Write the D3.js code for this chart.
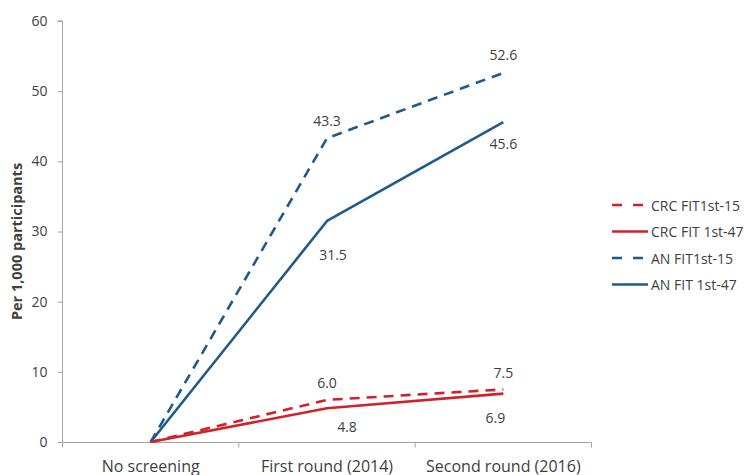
<!DOCTYPE html>
<html>
<head>
<meta charset="utf-8">
<script src="https://cdn.jsdelivr.net/npm/d3@7"></script>
<style>
  html, body { margin: 0; padding: 0; background: #ffffff; }
  svg { display: block; }
  text { font-family: "Open Sans", "Noto Sans", sans-serif; fill: #404040; }
</style>
</head>
<body>
<svg id="chart" width="744" height="475"></svg>
<script>
// Detection rates per 1,000 participants across screening rounds
const categories = ["No screening", "First round (2014)", "Second round (2016)"];
const crcFit15 = [0, 6.0, 7.5];
const crcFit47 = [0, 4.8, 6.9];
const anFit15 = [0, 43.3, 52.6];
const anFit47 = [0, 31.5, 45.6];
const yTicks = [0, 10, 20, 30, 40, 50, 60];
const seriesNames = ["CRC FIT1st-15", "CRC FIT 1st-47", "AN FIT1st-15", "AN FIT 1st-47"];

const RED = "#cf222d";
const BLUE = "#1f5a8b";
const AXIS = "#a3a3a3";

// Series styling and where each value label sits relative to its point
const series = [
  { name: seriesNames[0], values: crcFit15, color: RED, dashed: true,
    labelOffsets: [null, [0, -17], [0, -17]] },
  { name: seriesNames[1], values: crcFit47, color: RED, dashed: false,
    labelOffsets: [null, [20, 18], [-8, 24]] },
  { name: seriesNames[2], values: anFit15, color: BLUE, dashed: true,
    labelOffsets: [null, [0, -18], [0, -18]] },
  { name: seriesNames[3], values: anFit47, color: BLUE, dashed: false,
    labelOffsets: [null, [6, 34], [0, 21]] }
];

const svg = d3.select("#chart");

const x = d3.scaleBand().domain(categories).range([62.5, 591.5]).padding(0);
const y = d3.scaleLinear().domain([0, 60]).range([442, 21]);
const cx = c => x(c) + x.bandwidth() / 2;

// Y axis
const yAxis = svg.append("g")
  .attr("transform", "translate(62.5,0)")
  .call(d3.axisLeft(y).tickValues(yTicks).tickSize(5).tickPadding(10).tickFormat(d3.format("d")));
yAxis.select(".domain").attr("stroke", AXIS).attr("d", `M-5,${y(60)}H0V${y(0)}`);
yAxis.selectAll(".tick line").attr("stroke", AXIS);
yAxis.selectAll(".tick text").style("font-size", "14px").attr("fill", "#404040");

// X axis with tick marks on category boundaries
const xAxisG = svg.append("g").attr("transform", `translate(0,${y(0) + 0.5})`);
xAxisG.append("line")
  .attr("x1", x.range()[0]).attr("x2", x.range()[1])
  .attr("stroke", AXIS);
const boundaries = categories.map(c => x(c)).concat([x.range()[1]]);
xAxisG.selectAll("line.tk").data(boundaries).join("line")
  .attr("class", "tk")
  .attr("x1", d => d).attr("x2", d => d)
  .attr("y1", 0).attr("y2", 5)
  .attr("stroke", AXIS);
xAxisG.selectAll("text").data(categories).join("text")
  .attr("x", d => cx(d))
  .attr("y", 29.5)
  .attr("text-anchor", "middle")
  .style("font-size", "16px")
  .text(d => d);

// Y axis title
svg.append("text")
  .attr("transform", `translate(22,${(y(0) + y(60)) / 2 + 10}) rotate(-90)`)
  .attr("text-anchor", "middle")
  .style("font-size", "14.5px")
  .style("font-weight", "bold")
  .attr("fill", "#262626")
  .text("Per 1,000 participants");

// Lines
const line = d3.line()
  .x((d, i) => cx(categories[i]))
  .y(d => y(d));

const drawOrder = [series[2], series[3], series[0], series[1]];
svg.append("g").selectAll("path").data(drawOrder).join("path")
  .attr("d", s => line(s.values))
  .attr("fill", "none")
  .attr("stroke", s => s.color)
  .attr("stroke-width", 2.6)
  .attr("stroke-linejoin", "round")
  .attr("stroke-dasharray", s => s.dashed ? "10,7" : null);

// Value labels
const labelData = [];
series.forEach(s => s.values.forEach((v, i) => {
  const off = s.labelOffsets[i];
  if (off) labelData.push({ v, i, off });
}));
svg.append("g").selectAll("text").data(labelData).join("text")
  .attr("x", d => cx(categories[d.i]) + d.off[0])
  .attr("y", d => y(d.v) + d.off[1])
  .attr("text-anchor", "middle")
  .attr("dominant-baseline", "central")
  .style("font-size", "14px")
  .text(d => d3.format(".1f")(d.v));

// Legend
const legend = svg.append("g").attr("transform", "translate(612,205)");
const rows = legend.selectAll("g").data(series).join("g")
  .attr("transform", (d, i) => `translate(0,${i * 26.5})`);
rows.append("line")
  .attr("x1", 0).attr("x2", 36)
  .attr("stroke", d => d.color)
  .attr("stroke-width", 2.6)
  .attr("stroke-dasharray", d => d.dashed ? "10,11" : null);
rows.append("text")
  .attr("x", 39)
  .attr("dominant-baseline", "central")
  .style("font-size", "14px")
  .text(d => d.name);
</script>
</body>
</html>
